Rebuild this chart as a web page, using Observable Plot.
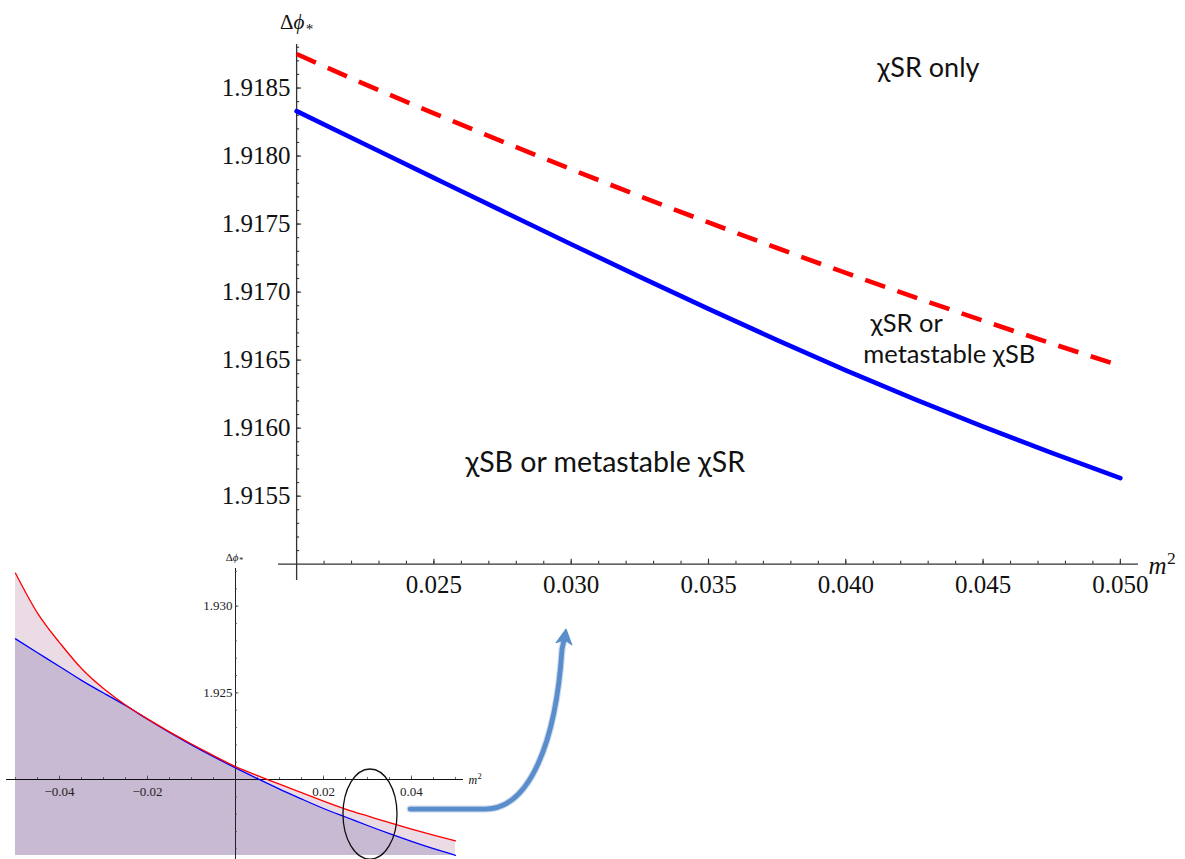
<!DOCTYPE html>
<html><head><meta charset="utf-8">
<script src="https://cdn.jsdelivr.net/npm/d3@7"></script>
<script src="https://cdn.jsdelivr.net/npm/@observablehq/plot@0.6"></script>
<style>
html,body{margin:0;padding:0;background:#fff;}
#fig{position:relative;width:1185px;height:859px;overflow:hidden;background:#fff;}
#fig > svg{position:absolute;}
</style></head>
<body><div id="fig"></div>
<script>
// ---------------- main chart data ----------------
const mainM2   = [0.020, 0.0225, 0.025, 0.0275, 0.030, 0.0325, 0.035, 0.0375, 0.040, 0.0425, 0.045, 0.0475, 0.050];
const mainRed  = [1.918750, 1.918527, 1.918314, 1.918106, 1.917903, 1.917705, 1.917512, 1.917324, 1.917141, 1.916963, 1.916790, 1.916622, 1.916458];
const mainBlue = [1.918330, 1.918085, 1.917840, 1.917595, 1.917352, 1.917112, 1.916877, 1.916647, 1.916425, 1.916213, 1.916011, 1.915818, 1.915633];
const mainXTicks = [0.025, 0.030, 0.035, 0.040, 0.045, 0.050];
const mainXTickLabels = ["0.025", "0.030", "0.035", "0.040", "0.045", "0.050"];
const mainYTicks = [1.9155, 1.9160, 1.9165, 1.9170, 1.9175, 1.9180, 1.9185];
const mainYTickLabels = ["1.9155", "1.9160", "1.9165", "1.9170", "1.9175", "1.9180", "1.9185"];
const mainXMinor = d3.range(21, 51).map(i => i / 1000);
const mainYMinor = d3.range(19151, 19189).map(i => i / 10000);
const mainRangeX = [0.01934, 0.05066];
const mainRangeY = [1.91488, 1.91882];
const mainCross = {x: 0.020, y: 1.9150};
const regionLabels = [
  {x: 0.04115, y: 1.91858, text: "χSR only", size: 27},
  {x: 0.04090, y: 1.91671, text: "χSR or", size: 25.5},
  {x: 0.04064, y: 1.91648, text: "metastable χSB", size: 25.5},
  {x: 0.02615, y: 1.91568, text: "χSB or metastable χSR", size: 28.5}
];

// ---------------- inset data ----------------
const insetM2   = [-0.05, -0.045, -0.04, -0.035, -0.03, -0.025, -0.02, -0.015, -0.01, -0.005, 0, 0.005, 0.01, 0.015, 0.02, 0.025, 0.03, 0.035, 0.04, 0.045, 0.05];
const insetRed  = [1.9319, 1.9296, 1.9279, 1.9264, 1.92525, 1.92430, 1.92350, 1.92275, 1.92205, 1.92138, 1.92075, 1.92023, 1.91973, 1.91924, 1.91876, 1.91830, 1.91790, 1.91751, 1.91714, 1.91679, 1.91646];
const insetBlue = [1.92811, 1.92731, 1.92652, 1.92572, 1.92499, 1.92427, 1.92348, 1.92272, 1.92200, 1.92132, 1.92067, 1.92005, 1.91945, 1.91888, 1.91833, 1.91784, 1.91735, 1.91688, 1.91643, 1.91601, 1.91563];
const insetXTicks = [-0.04, -0.02, 0.02, 0.04];
const insetXTickLabels = ["\u22120.04", "\u22120.02", "0.02", "0.04"];
const insetYTicks = [1.925, 1.930];
const insetYTickLabels = ["1.925", "1.930"];
const insetXMinor = [-0.05, -0.045, -0.04, -0.035, -0.03, -0.025, -0.02, -0.015, -0.01, -0.005, 0.005, 0.01, 0.015, 0.02, 0.025, 0.03, 0.035, 0.04, 0.045, 0.05];
const insetYMinor = d3.range(1916, 1933).filter(i => i !== 1920).map(i => i / 1000);
const insetRangeX = [-0.05205, 0.05182];
const insetRangeY = [1.91562, 1.93217];
const insetAxisYExtent = [1.9153, 1.93217];
const insetCross = {x: 0, y: 1.920};
const zoomEllipse = {cx: 0.03068, cy: 1.91798, rx: 0.00614, ry: 0.0026};
const arrowFrom = {x: 0.0398, y: 1.91827};   // inset coordinates
const arrowTo   = {x: 0.02983, y: 1.91452};  // main-chart coordinates

const mainData = mainM2.map((m, i) => ({m2: m, red: mainRed[i], blue: mainBlue[i]}));
const insetData = insetM2.map((m, i) => ({m2: m, red: insetRed[i], blue: insetBlue[i]}));

const serif = "'Liberation Serif', 'Times New Roman', 'DejaVu Serif', serif";
const sans = "Lato, 'Open Sans', 'Noto Sans', sans-serif";
const axisColor = "#333";
const fig = document.getElementById("fig");
const NS = "http://www.w3.org/2000/svg";
const DPHI = "\u0394\u03d5*";   // rendered as Δ, italic ϕ, subscript *
const M2 = "m2";                 // rendered as italic m, superscript 2

// ---------------- main chart ----------------
const main = Plot.plot({
  width: 1185, height: 859,
  marginLeft: 278, marginRight: 47, marginTop: 44, marginBottom: 279,
  x: {domain: mainRangeX, axis: null},
  y: {domain: mainRangeY, axis: null},
  style: {fontFamily: serif, fontSize: "25px", background: "transparent", overflow: "visible", color: "#111"},
  marks: [
    Plot.ruleY([mainCross.y], {x1: mainRangeX[0], x2: mainRangeX[1], stroke: axisColor, strokeWidth: 1.3}),
    Plot.ruleX([mainCross.x], {y1: mainRangeY[0], y2: mainRangeY[1], stroke: axisColor, strokeWidth: 1.3}),
    Plot.ruleX(mainXMinor, {x: d => d, y1: mainCross.y, y2: mainCross.y, insetTop: 0, insetBottom: 3, stroke: axisColor, strokeWidth: 1.1}),
    Plot.ruleX(mainXTicks, {x: d => d, y1: mainCross.y, y2: mainCross.y, insetTop: 0, insetBottom: 5, stroke: axisColor, strokeWidth: 1.1}),
    Plot.ruleY(mainYMinor, {y: d => d, x1: mainCross.x, x2: mainCross.x, insetLeft: 0, insetRight: -3, stroke: axisColor, strokeWidth: 1.1}),
    Plot.ruleY(mainYTicks, {y: d => d, x1: mainCross.x, x2: mainCross.x, insetLeft: 0, insetRight: -5, stroke: axisColor, strokeWidth: 1.1}),
    Plot.text(mainXTicks, {x: d => d, y: mainCross.y, text: (d, i) => mainXTickLabels[i], lineAnchor: "bottom", dy: 28.5, fill: "#111"}),
    Plot.text(mainYTicks, {x: mainCross.x, y: d => d, text: (d, i) => mainYTickLabels[i], textAnchor: "end", lineAnchor: "middle", dx: -6, fill: "#111"}),
    Plot.line(mainData, {x: "m2", y: "blue", stroke: "#0000ff", strokeWidth: 4.6, curve: "natural"}),
    Plot.line(mainData, {x: "m2", y: "red", stroke: "#ff0000", strokeWidth: 4.6, strokeDasharray: "21,13", strokeLinecap: "butt", curve: "natural"}),
    Plot.text(regionLabels, {x: "x", y: "y", text: "text", fontSize: "size", textAnchor: "start", lineAnchor: "bottom", fontFamily: sans, fill: "#111"}),
    Plot.text([DPHI], {x: mainCross.x, y: mainRangeY[1], text: d => d, dy: -16, lineAnchor: "bottom", textAnchor: "middle", fontSize: 21, fill: "#111"}),
    Plot.text([M2], {x: mainRangeX[1], y: mainCross.y, text: d => d, dx: 10, dy: 9.5, textAnchor: "start", lineAnchor: "bottom", fontSize: 25, fill: "#111"})
  ]
});
main.style.left = "0px"; main.style.top = "0px";
fig.appendChild(main);

// ---------------- inset chart ----------------
const insetLeft = 0, insetTop = 540;
const inset = Plot.plot({
  width: 500, height: 319,
  marginLeft: 6, marginRight: 37, marginTop: 28, marginBottom: 4,
  x: {domain: insetRangeX, axis: null},
  y: {domain: insetRangeY, axis: null},
  style: {fontFamily: serif, fontSize: "13px", background: "transparent", overflow: "visible", color: "#111"},
  marks: [
    Plot.areaY(insetData, {x: "m2", y1: insetRangeY[0], y2: "red", fill: "#eadbe5", curve: "natural"}),
    Plot.areaY(insetData, {x: "m2", y1: insetRangeY[0], y2: "blue", fill: "#c9bad3", curve: "natural"}),
    Plot.ruleY([insetCross.y], {x1: insetRangeX[0], x2: insetRangeX[1], stroke: "#111", strokeWidth: 1.1}),
    Plot.ruleX([insetCross.x], {y1: insetAxisYExtent[0], y2: insetAxisYExtent[1], stroke: "#222", strokeWidth: 1}),
    Plot.ruleX(insetXMinor, {x: d => d, y1: insetCross.y, y2: insetCross.y, insetTop: 0, insetBottom: 2, stroke: "#444", strokeWidth: 0.8}),
    Plot.ruleX(insetXTicks, {x: d => d, y1: insetCross.y, y2: insetCross.y, insetTop: 0, insetBottom: 3.5, stroke: "#444", strokeWidth: 0.8}),
    Plot.ruleY(insetYMinor, {y: d => d, x1: insetCross.x, x2: insetCross.x, insetLeft: 0, insetRight: -2, stroke: "#444", strokeWidth: 0.8}),
    Plot.ruleY(insetYTicks, {y: d => d, x1: insetCross.x, x2: insetCross.x, insetLeft: 0, insetRight: -3.5, stroke: "#444", strokeWidth: 0.8}),
    Plot.line(insetData, {x: "m2", y: "blue", stroke: "#0000ff", strokeWidth: 1.3, curve: "natural"}),
    Plot.line(insetData, {x: "m2", y: "red", stroke: "#ff0000", strokeWidth: 1.3, curve: "natural"}),
    Plot.text(insetXTicks, {x: d => d, y: insetCross.y, text: (d, i) => insetXTickLabels[i], lineAnchor: "bottom", dy: 16, fill: "#222"}),
    Plot.text(insetYTicks, {x: insetCross.x, y: d => d, text: (d, i) => insetYTickLabels[i], textAnchor: "end", lineAnchor: "middle", dx: -3, fill: "#222"}),
    Plot.text([DPHI], {x: insetCross.x, y: insetRangeY[1], text: d => d, dy: -8, dx: -1, lineAnchor: "bottom", textAnchor: "middle", fontSize: 11, fill: "#111"}),
    Plot.text([M2], {x: insetRangeX[1], y: insetCross.y, text: d => d, dx: 5, dy: 4.5, textAnchor: "start", lineAnchor: "bottom", fontSize: 12, fill: "#111"})
  ]
});
inset.style.left = insetLeft + "px"; inset.style.top = insetTop + "px";
fig.appendChild(inset);

// ---------------- rich text (Δϕ*, m²) ----------------
function rich(svg, content, parts) {
  svg.querySelectorAll("text").forEach(t => {
    if (t.textContent !== content) return;
    t.textContent = "";
    for (const p of parts) {
      const s = document.createElementNS(NS, "tspan");
      s.textContent = p.t;
      if (p.italic) s.setAttribute("font-style", "italic");
      if (p.size) s.setAttribute("font-size", p.size);
      if (p.dy) s.setAttribute("dy", p.dy);
      if (p.dx) s.setAttribute("dx", p.dx);
      t.appendChild(s);
    }
  });
}
const dphiParts = [{t: "\u0394"}, {t: "\u03d5", italic: true}, {t: "*", size: "0.72em", dy: "0.35em", dx: "0.1em"}];
const m2Parts = [{t: "m", italic: true}, {t: "2", size: "0.7em", dy: "-0.55em", dx: "0.03em"}];
rich(main, DPHI, dphiParts);
rich(inset, DPHI, dphiParts);
rich(main, M2, m2Parts);
rich(inset, M2, m2Parts);

// ---------------- ellipse on inset, arrow between charts ----------------
function lin(plot, k) {
  const s = plot.scale(k);
  return d3.scaleLinear().domain(s.domain).range(s.range);
}
const ix = lin(inset, "x"), iy = lin(inset, "y");
const mx = lin(main, "x"), my = lin(main, "y");

d3.select(inset).append("ellipse")
  .attr("cx", ix(zoomEllipse.cx)).attr("cy", iy(zoomEllipse.cy))
  .attr("rx", Math.abs(ix(zoomEllipse.cx + zoomEllipse.rx) - ix(zoomEllipse.cx)))
  .attr("ry", Math.abs(iy(zoomEllipse.cy + zoomEllipse.ry) - iy(zoomEllipse.cy)))
  .attr("fill", "none").attr("stroke", "#111").attr("stroke-width", 1.3);

const overlay = d3.create("svg").attr("width", 1185).attr("height", 859)
  .style("left", "0px").style("top", "0px").style("position", "absolute").style("pointer-events", "none");
const S = {x: ix(arrowFrom.x) + insetLeft, y: iy(arrowFrom.y) + insetTop};
const E = {x: mx(arrowTo.x), y: my(arrowTo.y)};
const p = d3.path();
p.moveTo(S.x, S.y);
p.lineTo(S.x + 75, S.y);
p.bezierCurveTo(S.x + 120, S.y, E.x - 10, E.y + 112, E.x - 4, E.y + 20);
p.lineTo(E.x - 1.8, E.y + 10);
overlay.append("path").attr("d", p.toString()).attr("fill", "none")
  .attr("stroke", "#9bb6d8").attr("stroke-width", 7).attr("stroke-linecap", "round").attr("opacity", 0.5);
overlay.append("path").attr("d", p.toString()).attr("fill", "none")
  .attr("stroke", "#5a8dcb").attr("stroke-width", 4.8).attr("stroke-linecap", "round");
overlay.append("path")
  .attr("d", "M0,0 L-8,15 L0,11 L8,15 Z")
  .attr("transform", `translate(${E.x},${E.y}) rotate(8)`)
  .attr("fill", "#5a8dcb").attr("stroke", "#5a8dcb").attr("stroke-width", 1).attr("stroke-linejoin", "round");
fig.appendChild(overlay.node());
</script>
</body></html>
